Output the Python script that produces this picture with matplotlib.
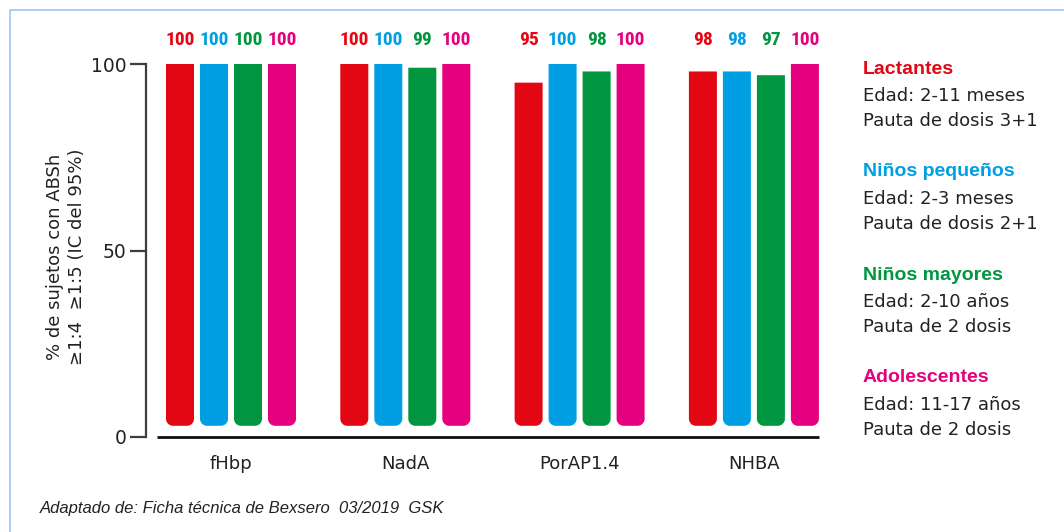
import numpy as np
import matplotlib
matplotlib.use('Agg')
import matplotlib.pyplot as plt
from matplotlib.path import Path
from matplotlib.patches import PathPatch, Rectangle

# antigens on the x axis and the four age groups
antigens = ['fHbp', 'NadA', 'PorAP1.4', 'NHBA']
groups = ['Lactantes', 'Niños pequeños', 'Niños mayores', 'Adolescentes']
edad = ['Edad: 2-11 meses', 'Edad: 2-3 meses', 'Edad: 2-10 años', 'Edad: 11-17 años']
pauta = ['Pauta de dosis 3+1', 'Pauta de dosis 2+1', 'Pauta de 2 dosis', 'Pauta de 2 dosis']

# % of subjects per antigen, one list per age group
lactantes = [100, 100, 95, 98]
ninos_pequenos = [100, 100, 100, 98]
ninos_mayores = [100, 99, 98, 97]
adolescentes = [100, 100, 100, 100]
values = [lactantes, ninos_pequenos, ninos_mayores, adolescentes]

colors = ['#e30613', '#009fe3', '#009640', '#e5007d']
axis_grey = '#3d3d3d'

W, H = 1064, 532
fig = plt.figure(figsize=(W / 100, H / 100), dpi=100)
ax = fig.add_axes([146 / W, (H - 437) / H, (830 - 146) / W, 373 / H])

px_x = 174.3          # pixels per group step
px_y = 373 / 100      # pixels per % point
bar_w = 28 / px_x
step = 34 / px_x
base = 3              # bars float slightly above zero
rx, ry = 7 / px_x, 7 / px_y
k = 0.5523

narrow = ['Roboto Condensed', 'Liberation Sans Narrow', 'Liberation Sans']


def rounded_bar(x0, x1, y0, y1):
    verts = [(x0, y1), (x0, y0 + ry),
             (x0, y0 + ry * (1 - k)), (x0 + rx * (1 - k), y0), (x0 + rx, y0),
             (x1 - rx, y0),
             (x1 - rx * (1 - k), y0), (x1, y0 + ry * (1 - k)), (x1, y0 + ry),
             (x1, y1), (x0, y1)]
    codes = [Path.MOVETO, Path.LINETO,
             Path.CURVE4, Path.CURVE4, Path.CURVE4,
             Path.LINETO,
             Path.CURVE4, Path.CURVE4, Path.CURVE4,
             Path.LINETO, Path.CLOSEPOLY]
    return Path(verts, codes)


xs = np.arange(len(antigens))
offsets = (np.arange(len(groups)) - 1.5) * step
for g, (vals, col) in enumerate(zip(values, colors)):
    for xi, v in zip(xs, vals):
        cx = xi + offsets[g]
        ax.add_patch(PathPatch(rounded_bar(cx - bar_w / 2, cx + bar_w / 2, base, v),
                               facecolor=col, edgecolor='none'))
        ax.text(cx, 106.4, f'{v}', ha='center', va='center', color=col,
                fontsize=14, fontweight='bold', family=narrow, clip_on=False)

ax.set_xlim(-(231 - 146) / px_x, -(231 - 146) / px_x + (830 - 146) / px_x)
ax.set_ylim(0, 100)

# baseline under the bars
x_start = xs[0] + offsets[0] - bar_w / 2 - 9 / px_x
x_end = xs[-1] + offsets[-1] + bar_w / 2
ax.plot([x_start, x_end], [0, 0], color='#111111', lw=2, solid_capstyle='butt', clip_on=False)

for s in ['top', 'right', 'bottom']:
    ax.spines[s].set_visible(False)
ax.spines['left'].set_bounds(0, 100)
ax.spines['left'].set_color(axis_grey)
ax.spines['left'].set_linewidth(1.6)

ax.set_yticks([0, 50, 100])
ax.tick_params(axis='y', length=11.5, width=1.6, color=axis_grey, pad=2.5,
               labelsize=13.5, labelcolor='#222222')
ax.set_xticks(xs)
ax.set_xticklabels(antigens)
ax.tick_params(axis='x', length=0, pad=13, labelsize=13, labelcolor='#222222')

fig.text(66 / W, 1 - 257 / H, '% de sujetos con ABSh\n≥1:4  ≥1:5 (IC del 95%)',
         rotation=90, ha='center', va='center', multialignment='center',
         fontsize=13, color='#222222', linespacing=1.25)

# legend block on the right
for i in range(len(groups)):
    y0 = 69 + i * 103
    fig.text(863 / W, 1 - y0 / H, groups[i], ha='left', va='center', color=colors[i],
             fontsize=14, fontweight='bold', family='Liberation Sans')
    fig.text(863 / W, 1 - (y0 + 27) / H, edad[i], ha='left', va='center',
             fontsize=13, color='#222222')
    fig.text(863 / W, 1 - (y0 + 52) / H, pauta[i], ha='left', va='center',
             fontsize=13, color='#222222')

fig.text(40 / W, 1 - 508 / H, 'Adaptado de: Ficha técnica de Bexsero  03/2019  GSK',
         ha='left', va='center', fontsize=12, style='italic', family='Liberation Sans',
         color='#222222')

# light blue frame
fig.add_artist(Rectangle((9.5 / W, -0.1), 1.2, 1.1 - 10 / H, transform=fig.transFigure,
                         fill=False, edgecolor='#a3c4ea', lw=1.2))

fig.savefig('out.png', dpi=100)
